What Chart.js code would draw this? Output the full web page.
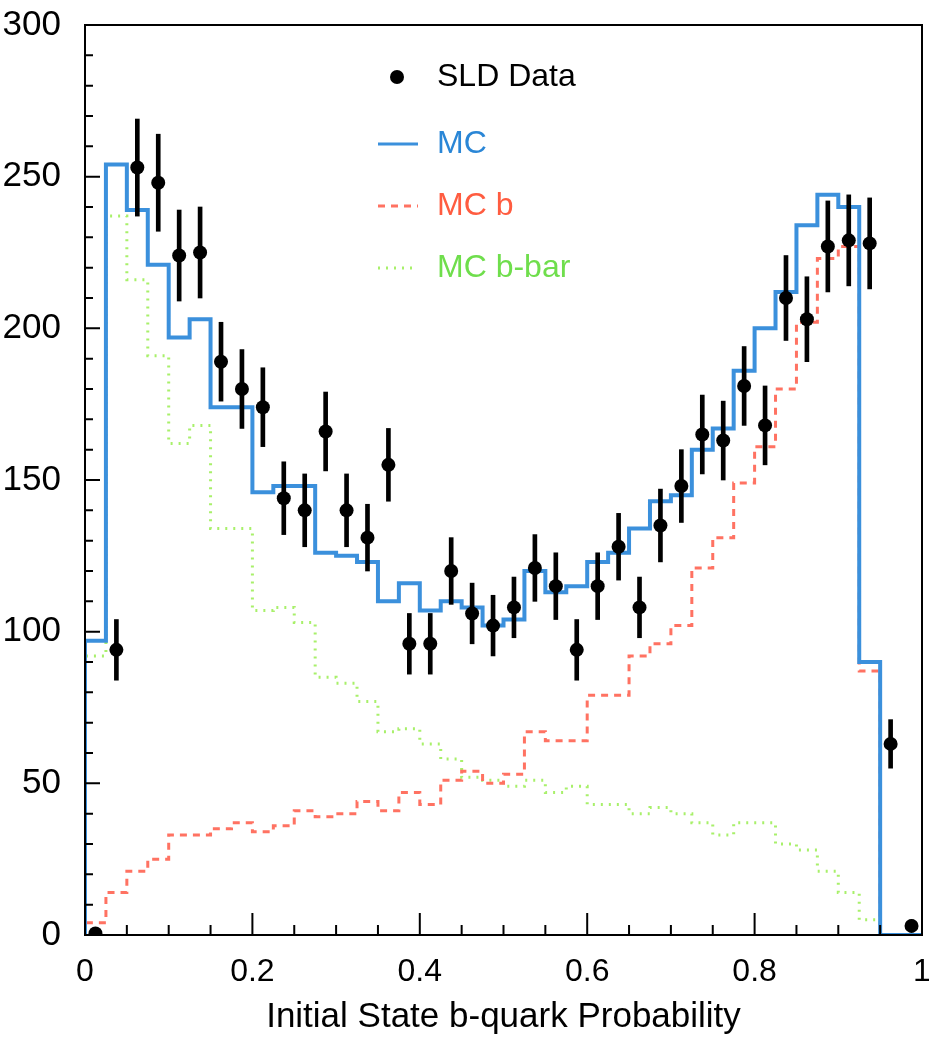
<!DOCTYPE html>
<html>
<head>
<meta charset="utf-8">
<title>Initial State b-quark Probability</title>
<script src="https://cdn.jsdelivr.net/npm/chart.js@4.4.1/dist/chart.umd.min.js"></script>
<style>
	html, body { margin: 0; padding: 0; background: #fff; }
	#wrap { width: 929px; height: 1038px; }
</style>
</head>
<body>
<div id="wrap"><canvas id="c"></canvas></div>
<script>
// bin edges of the histogram (40 bins)
var binEdges = [0, 0.025, 0.05, 0.075, 0.1, 0.125, 0.15, 0.175, 0.2, 0.225,
	0.25, 0.275, 0.3, 0.325, 0.35, 0.375, 0.4, 0.425, 0.45, 0.475,
	0.5, 0.525, 0.55, 0.575, 0.6, 0.625, 0.65, 0.675, 0.7, 0.725,
	0.75, 0.775, 0.8, 0.825, 0.85, 0.875, 0.9, 0.925, 0.95, 0.975, 1];

var mcTotal = [0, 97, 254, 239, 221, 197, 203, 174, 174, 146,
	148, 148, 126, 125, 123, 110, 116, 107, 110, 108,
	102, 104, 120, 113, 115, 123, 126, 134, 143, 145,
	160, 167, 186, 200, 212, 234, 244, 240, 90, 0];

var mcB = [0, 4, 14, 21, 25, 33, 33, 35, 37, 34,
	36, 41, 39, 40, 44, 41, 47, 43, 51, 54,
	50, 53, 67, 64, 64, 79, 79, 92, 96, 102,
	121, 131, 149, 161, 180, 202, 223, 227, 87, 0];

var mcBbar = [0, 92, 237, 216, 191, 162, 168, 134, 134, 107,
	108, 103, 85, 83, 77, 67, 68, 63, 58, 52,
	51, 49, 51, 47, 49, 43, 43, 40, 42, 40,
	37, 33, 37, 37, 30, 28, 21, 14, 5, 0];

var sldData = [0.5, 94, 253, 248, 224, 225, 189, 180, 174, 144,
	140, 166, 140, 131, 155, 96, 96, 120, 106, 102,
	108, 121, 115, 94, 115, 128, 108, 135, 148, 165,
	163, 181, 168, 210, 203, 227, 229, 228, 63, 3];

var sldErr = [1, 10, 16, 16, 15, 15, 13, 13, 13, 12,
	12, 13, 12, 11, 12, 10, 10, 11, 10, 10,
	10, 11, 11, 10, 11, 11, 10, 12, 12, 13,
	13, 13, 13, 14, 14, 15, 15, 15, 8, 2];

var legendNames = ["SLD Data", "MC", "MC b", "MC b-bar"];
var xTitle = "Initial State b-quark Probability";

var FONT = '"Liberation Sans", Arial, Helvetica, sans-serif';
var C_MC = "#3b90dc", C_B = "#ff7262", C_BBAR = "#a8f06a";

function stepPoints(vals) {
	var pts = vals.map(function(v, i) { return { x: binEdges[i], y: v }; });
	pts.push({ x: binEdges[vals.length], y: vals[vals.length - 1] });
	return pts;
}

var binCenters = binEdges.slice(0, -1).map(function(e, i) { return (e + binEdges[i + 1]) / 2; });

// frame, inward ticks and the legend block
var decor = {
	id: "decor",
	afterDatasetsDraw: function(chart) {
		var ctx = chart.ctx, a = chart.chartArea;
		var sx = chart.scales.x, sy = chart.scales.y;
		ctx.save();
		ctx.strokeStyle = "#000";
		ctx.lineWidth = 2;
		ctx.strokeRect(a.left, a.top, a.right - a.left, a.bottom - a.top);

		ctx.lineWidth = 2;
		ctx.beginPath();
		for (var i = 1; i < 20; i++) {
			var px = sx.getPixelForValue(i * 0.05);
			var len = (i % 4 == 0) ? 22 : 10;
			ctx.moveTo(px, a.bottom);
			ctx.lineTo(px, a.bottom - len);
		}
		for (var j = 1; j < 30; j++) {
			var py = sy.getPixelForValue(j * 10);
			var l2 = (j % 5 == 0) ? 15 : 8;
			ctx.moveTo(a.left, py);
			ctx.lineTo(a.left + l2, py);
		}
		ctx.stroke();

		// legend
		ctx.font = "32px " + FONT;
		ctx.textBaseline = "middle";
		ctx.textAlign = "left";
		var lx = a.left + 293, tx = a.left + 352;

		ctx.fillStyle = "#000";
		ctx.beginPath();
		ctx.arc(a.left + 312, a.top + 52, 7, 0, Math.PI * 2);
		ctx.fill();
		ctx.fillText(legendNames[0], tx, a.top + 52);

		var rows = [
			{ y: a.top + 119, c: C_MC, t: "#2a86d6", dash: [], w: 3 },
			{ y: a.top + 181, c: C_B, t: "#ff5c40", dash: [7, 6], w: 3 },
			{ y: a.top + 243, c: C_BBAR, t: "#6fde4c", dash: [2, 6], w: 3 }
		];
		rows.forEach(function(r, k) {
			ctx.strokeStyle = r.c;
			ctx.lineWidth = r.w;
			ctx.setLineDash(r.dash);
			ctx.beginPath();
			ctx.moveTo(lx, r.y);
			ctx.lineTo(lx + 40, r.y);
			ctx.stroke();
			ctx.setLineDash([]);
			ctx.fillStyle = r.t;
			ctx.fillText(legendNames[k + 1], tx, r.y);
		});
		ctx.restore();
	}
};

var config = {
	type: "line",
	data: {
		datasets: [
			{
				label: "SLD Data",
				data: binCenters.map(function(x, i) { return { x: x, y: sldData[i] }; }),
				showLine: false,
				pointRadius: 7,
				pointBackgroundColor: "#000",
				pointBorderWidth: 0,
				order: 0
			},
			{
				type: "bar",
				label: "SLD errors",
				data: binCenters.map(function(x, i) { return { x: x, y: [sldData[i] - sldErr[i], sldData[i] + sldErr[i]] }; }),
				backgroundColor: "#000",
				borderWidth: 0,
				barThickness: 4,
				order: 1
			},
			{
				label: "MC",
				data: stepPoints(mcTotal),
				stepped: "after",
				borderColor: C_MC,
				borderWidth: 4,
				pointRadius: 0,
				fill: false,
				order: 2
			},
			{
				label: "MC b",
				data: stepPoints(mcB),
				stepped: "after",
				borderColor: C_B,
				borderWidth: 3,
				borderDash: [7, 6],
				pointRadius: 0,
				fill: false,
				order: 3
			},
			{
				label: "MC b-bar",
				data: stepPoints(mcBbar),
				stepped: "after",
				borderColor: C_BBAR,
				borderWidth: 3,
				borderDash: [2, 6],
				pointRadius: 0,
				fill: false,
				order: 4
			}
		]
	},
	options: {
		responsive: true,
		maintainAspectRatio: false,
		animation: false,
		devicePixelRatio: 1,
		events: [],
		layout: { padding: { top: 25, right: 7, left: 0, bottom: 0 } },
		plugins: { legend: { display: false }, tooltip: { enabled: false } },
		scales: {
			x: {
				type: "linear",
				min: 0, max: 1,
				offset: false,
				grid: { display: false },
				border: { display: false },
				ticks: {
					stepSize: 0.2,
					autoSkip: false,
					maxRotation: 0,
					padding: 10,
					color: "#000",
					font: { family: FONT, size: 32 },
					callback: function(v) { return String(Number(v.toFixed(1))); }
				},
				title: {
					display: true,
					text: xTitle,
					color: "#000",
					font: { family: FONT, size: 35 },
					padding: { top: 0, bottom: 0 }
				},
				afterFit: function(s) { s.height = 103; s.paddingLeft = 0; s.paddingRight = 0; }
			},
			y: {
				min: 0, max: 300,
				grid: { display: false },
				border: { display: false },
				ticks: {
					stepSize: 50,
					padding: 16,
					color: "#000",
					font: { family: FONT, size: 35 }
				},
				afterFit: function(s) { s.width = 85; s.paddingTop = 0; s.paddingBottom = 0; }
			}
		}
	},
	plugins: [decor]
};

var chart = new Chart(document.getElementById("c"), config);
</script>
</body>
</html>
